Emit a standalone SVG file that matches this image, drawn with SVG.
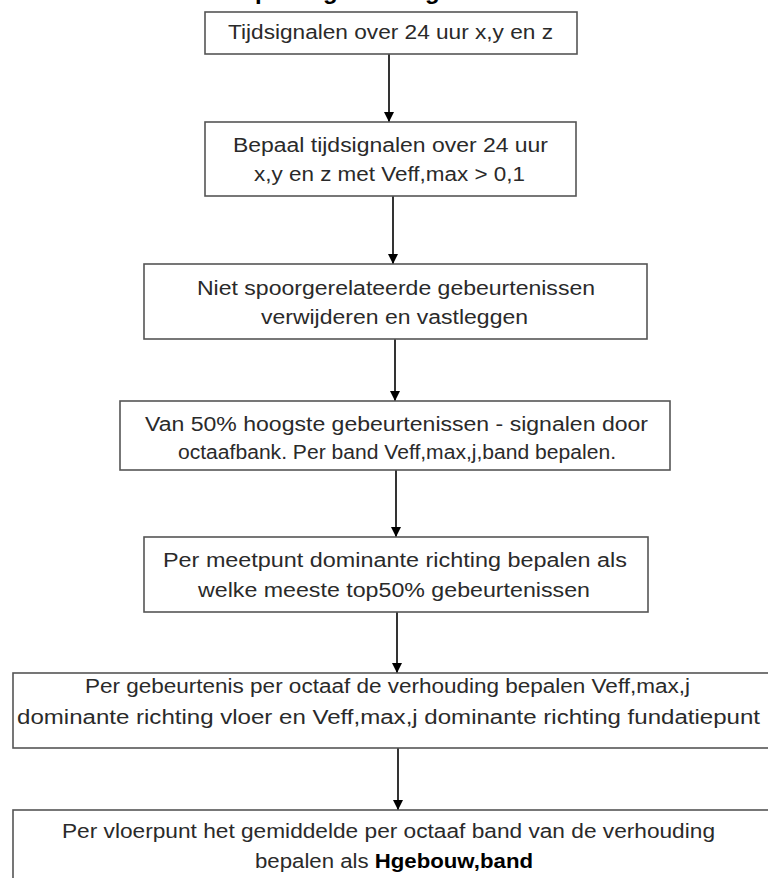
<svg xmlns="http://www.w3.org/2000/svg" width="768" height="878" viewBox="0 0 768 878">
<defs>
<style>
.box{fill:#fff;stroke:#555;stroke-width:1.6}
.t{font-family:"Liberation Sans",Arial,sans-serif;font-size:19.5px;fill:#2a2a2a}
.b{font-weight:bold;fill:#000}
.c{stroke:#000;stroke-width:1.6;fill:none}
.title{font-family:"Liberation Sans",Arial,sans-serif;font-size:24px;font-weight:bold;fill:#000}
</style>
<marker id="ah" markerWidth="10" markerHeight="10" refX="10" refY="5" orient="auto" markerUnits="userSpaceOnUse">
<path d="M0,0 L10,5 L0,10 Z" fill="#000"/>
</marker>
</defs>
<rect width="768" height="878" fill="#fff"/>
<text class="title" y="-1"><tspan x="255">p</tspan><tspan x="323">g</tspan><tspan x="425">g</tspan></text>
<g id="connectors">
<line class="c" x1="389" y1="54" x2="389" y2="122" marker-end="url(#ah)"/>
<line class="c" x1="393" y1="196" x2="393" y2="264" marker-end="url(#ah)"/>
<line class="c" x1="395" y1="339" x2="395" y2="401" marker-end="url(#ah)"/>
<line class="c" x1="396" y1="470" x2="396" y2="537" marker-end="url(#ah)"/>
<line class="c" x1="397" y1="612" x2="397" y2="673" marker-end="url(#ah)"/>
<line class="c" x1="398" y1="748" x2="398" y2="810" marker-end="url(#ah)"/>
</g>
<g id="n1">
<rect class="box" x="205" y="12" width="372" height="42"/>
<text class="t" x="228" y="39" textLength="325" lengthAdjust="spacingAndGlyphs">Tijdsignalen over 24 uur x,y en z</text>
</g>
<g id="n2">
<rect class="box" x="205" y="122" width="371" height="74"/>
<text class="t" x="233" y="152" textLength="315" lengthAdjust="spacingAndGlyphs">Bepaal tijdsignalen over 24 uur</text>
<text class="t" x="254" y="181" textLength="271" lengthAdjust="spacingAndGlyphs">x,y en z met Veff,max &gt; 0,1</text>
</g>
<g id="n3">
<rect class="box" x="144" y="264" width="503" height="75"/>
<text class="t" x="197" y="295" textLength="398" lengthAdjust="spacingAndGlyphs">Niet spoorgerelateerde gebeurtenissen</text>
<text class="t" x="261" y="324" textLength="267" lengthAdjust="spacingAndGlyphs">verwijderen en vastleggen</text>
</g>
<g id="n4">
<rect class="box" x="120" y="401" width="550" height="69"/>
<text class="t" x="145" y="431" textLength="503" lengthAdjust="spacingAndGlyphs">Van 50% hoogste gebeurtenissen  - signalen door</text>
<text class="t" x="178" y="459" textLength="438" lengthAdjust="spacingAndGlyphs">octaafbank. Per band Veff,max,j,band bepalen.</text>
</g>
<g id="n5">
<rect class="box" x="144" y="537" width="504" height="75"/>
<text class="t" x="163" y="567" textLength="464" lengthAdjust="spacingAndGlyphs">Per meetpunt dominante richting bepalen als</text>
<text class="t" x="198" y="597" textLength="392" lengthAdjust="spacingAndGlyphs">welke  meeste top50% gebeurtenissen</text>
</g>
<g id="n6">
<rect class="box" x="13" y="673" width="760" height="75"/>
<text class="t" x="85" y="693" textLength="605" lengthAdjust="spacingAndGlyphs">Per gebeurtenis  per octaaf de verhouding bepalen Veff,max,j</text>
<text class="t" x="17" y="724" textLength="743" lengthAdjust="spacingAndGlyphs">dominante richting vloer en Veff,max,j dominante richting fundatiepunt</text>
</g>
<g id="n7">
<rect class="box" x="13" y="810" width="760" height="80"/>
<text class="t" x="62" y="838" textLength="653" lengthAdjust="spacingAndGlyphs">Per vloerpunt het gemiddelde per octaaf band van de verhouding</text>
<text class="t" x="255" y="868" textLength="278" lengthAdjust="spacingAndGlyphs">bepalen als <tspan class="b">Hgebouw,band</tspan></text>
</g>
</svg>
